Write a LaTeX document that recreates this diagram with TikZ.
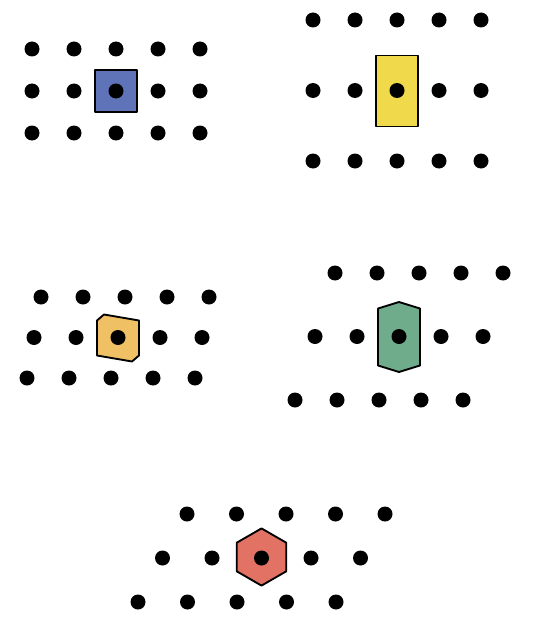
\documentclass[tikz,border=0pt]{standalone}
\usepackage{xcolor}
\usepackage{tikz}

\definecolor{cellblue}{RGB}{95,115,185}
\definecolor{cellyellow}{RGB}{240,218,75}
\definecolor{cellorange}{RGB}{240,192,100}
\definecolor{cellgreen}{RGB}{110,172,140}
\definecolor{cellred}{RGB}{226,115,100}

\begin{document}
\begin{tikzpicture}[
  x=0.03cm, y=-0.03cm,
  site/.style={circle, fill=black, inner sep=0pt, minimum size=0.45cm},
  wscell/.style={draw=black, line width=1.6pt, line join=round}
]
\useasboundingbox (0,0) rectangle (556,619);

\draw[wscell, fill=cellblue] (95,70) rectangle (137,112);
\draw[wscell, fill=cellyellow] (376,55.5) rectangle (418,126.5);
\draw[wscell, fill=cellorange] (118,338) +(21,-17.5) -- +(-14,-23.5) -- +(-21,-17.5)
  -- +(-21,17.5) -- +(14,23.5) -- +(21,17.5) -- cycle;
\draw[wscell, fill=cellgreen] (399,337) +(21,-28.5) -- +(0,-35) -- +(-21,-28.5)
  -- +(-21,28.5) -- +(0,35) -- +(21,28.5) -- cycle;
\draw[wscell, fill=cellred] (261.5,557) +(30:28.6) -- +(90:28.6) -- +(150:28.6)
  -- +(210:28.6) -- +(270:28.6) -- +(330:28.6) -- cycle;

\foreach \i in {0,...,4} {
  \foreach \j in {0,1,2} {
    \node[site] (sq-\i-\j) at ({32+42*\i},{49+42*\j}) {};
    \node[site] (rect-\i-\j) at ({313+42*\i},{20+70.5*\j}) {};
  }
  \foreach \j/\xo in {0/41,1/34,2/27}
    \node[site] (obl-\i-\j) at ({\xo+42*\i},{297+40.5*\j}) {};
  \foreach \j/\xo in {0/335,1/315,2/295}
    \node[site] (crect-\i-\j) at ({\xo+42*\i},{273+63.5*\j}) {};
  \foreach \j/\xo in {0/187,1/162.5,2/138}
    \node[site] (hex-\i-\j) at ({\xo+49.5*\i},{514+44*\j}) {};
}
\end{tikzpicture}
\end{document}
